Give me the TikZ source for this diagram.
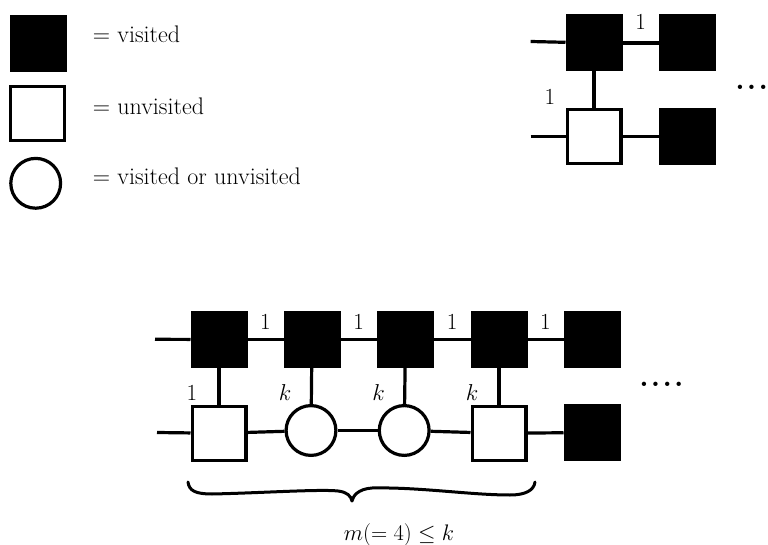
\documentclass[tikz,border=0pt]{standalone}
\usepackage{fix-cm}
\usepackage{fontspec}
\begin{document}
\begin{tikzpicture}[x=1pt,y=-1pt,
  vis/.style={draw=black,fill=black,line width=3.2pt,rectangle,minimum size=53.8pt,inner sep=0pt},
  unv/.style={draw=black,fill=white,line width=3.2pt,rectangle,minimum size=53.8pt,inner sep=0pt},
  anyv/.style={draw=black,fill=white,line width=3.2pt,circle,minimum size=49.8pt,inner sep=0pt},
  conn/.style={line width=3.2pt},
  lbl/.style={font=\fontsize{23}{27}\selectfont,inner sep=0pt},
  legtext/.style={font=\fontsize{24}{28}\selectfont,inner sep=0pt,anchor=base west},
  dotsty/.style={font=\fontsize{30}{32}\selectfont\bfseries,inner sep=0pt,anchor=base west}
]
\useasboundingbox (0,0) rectangle (768,545);

% ---- legend ----
\node[vis] (lv) at (38,43.2) {};
\node[unv] (lu) at (37.7,113.5) {};
\node[anyv] (la) at (35.7,183.3) {};
\node[legtext] (tv) at (92.7,42.7) {$=$ visited};
\node[legtext] (tu) at (92.7,114.3) {$=$ unvisited};
\node[legtext] (ta) at (92.7,185) {$=$ visited or unvisited};

% ---- top right ----
\node[vis] (a1) at (594,43) {};
\node[vis] (a2) at (687.5,43) {};
\node[unv] (b1) at (594,136.7) {};
\node[vis] (b2) at (687.5,136.7) {};
\coordinate (sa) at (530.7,41.5);
\coordinate (sb) at (530.7,136.7);
\draw[conn] (sa) -- (a1);
\draw[conn] (sb) -- (b1);
\draw[conn] (a1) -- (a2);
\draw[conn] (b1) -- (b2);
\draw[conn] (a1) -- (b1);
\node[lbl] (la1) at (640.75,21.7) {1};
\node[lbl] (lb1) at (550,96.7) {1};
\node[dotsty] (dt1) at (735.2,90) {.\kern2.2pt.\kern2.2pt.};

% ---- bottom diagram ----
\node[vis] (t1) at (219,339.5) {};
\node[vis] (t2) at (312,339.5) {};
\node[vis] (t3) at (405.5,339.5) {};
\node[vis] (t4) at (499,339.5) {};
\node[vis] (t5) at (592,339.5) {};
\node[unv] (u1) at (219,433.3) {};
\node[anyv] (u2) at (311,430.5) {};
\node[anyv] (u3) at (404.2,430.5) {};
\node[unv] (u4) at (499,433.3) {};
\node[vis] (u5) at (592,432.5) {};
\coordinate (st) at (155,339.3);
\coordinate (su) at (157,432.5);
\draw[conn] (st) -- (t1);
\draw[conn] (t1) -- (t2);
\draw[conn] (t2) -- (t3);
\draw[conn] (t3) -- (t4);
\draw[conn] (t4) -- (t5);
\draw[conn] (su) -- (u1);
\draw[conn] (u1) -- (u2);
\draw[conn] (u2) -- (u3);
\draw[conn] (u3) -- (u4);
\draw[conn] (u4) -- (u5);
\draw[conn] (t1) -- (u1);
\draw[conn] (t2) -- (u2);
\draw[conn] (t3) -- (u3);
\draw[conn] (t4) -- (u4);
\node[lbl] (e12) at (265.5,321.7) {1};
\node[lbl] (e23) at (358.75,321.7) {1};
\node[lbl] (e34) at (452.25,321.7) {1};
\node[lbl] (e45) at (545.5,321.7) {1};
\node[lbl] (v1) at (192,393) {1};
\node[lbl] (v2) at (285,393) {$k$};
\node[lbl] (v3) at (378.5,393) {$k$};
\node[lbl] (v4) at (472,393) {$k$};
\node[dotsty] (dt2) at (639.2,386) {.\kern2.2pt.\kern2.2pt.\kern2.2pt.};

% brace
\draw[line width=3pt,line cap=round,line join=round]
  (188,482) .. controls (189,491) and (196,494) .. (212,494)
  .. controls (260,493) and (320,489) .. (338,491)
  .. controls (347,492) and (351,496) .. (352,501)
  .. controls (353,496) and (358,489) .. (372,488)
  .. controls (420,487) and (470,495) .. (510,495)
  .. controls (526,495) and (534,490) .. (535,482);
\node[font=\fontsize{22.5}{26}\selectfont,inner sep=0pt,anchor=base] (mlab) at (399,540) {$m(=4)\le k$};
\end{tikzpicture}
\end{document}
